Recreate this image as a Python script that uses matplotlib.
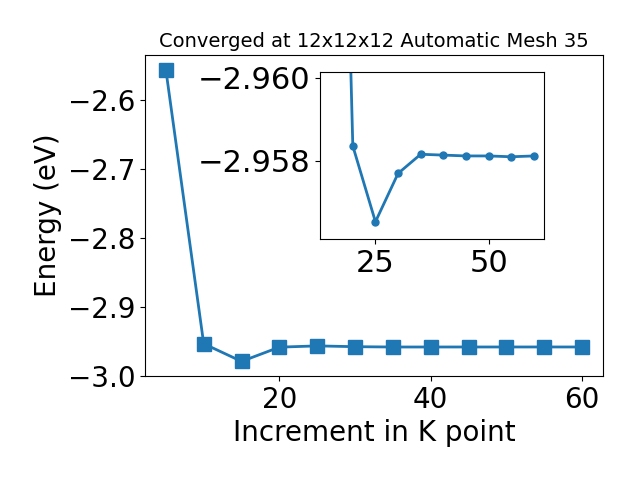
import matplotlib
matplotlib.use("Agg")
import matplotlib.pyplot as plt

kpoints = [5, 10, 15, 20, 25, 30, 35, 40, 45, 50, 55, 60]
energy = [-2.5563, -2.9534, -2.9790, -2.95836, -2.95654, -2.95770, -2.95816,
          -2.95814, -2.95812, -2.95812, -2.95810, -2.95812]

inset_k = kpoints[2:]
inset_e = energy[2:]

fig = plt.figure(figsize=(6.4, 4.8), dpi=100)
ax = fig.add_axes([0.2266, 0.2167, 0.7156, 0.6687])
ax.plot(kpoints, energy, marker='s', markersize=10, linewidth=2, color='#1f77b4')
ax.set_xlabel('Increment in K point', fontsize=20)
ax.set_ylabel('Energy (eV)', fontsize=20)
ax.set_title('Converged at 12x12x12 Automatic Mesh 35', fontsize=14)
ax.tick_params(labelsize=20)
ax.set_yticks([-3.0, -2.9, -2.8, -2.7, -2.6])

axin = fig.add_axes([0.5, 0.5015, 0.35, 0.349])
axin.plot(inset_k, inset_e, marker='o', markersize=5, linewidth=2, color='#1f77b4')
axin.set_ylim(-2.95612, -2.96014)
axin.set_yticks([-2.958, -2.960])
axin.set_xticks([25, 50])
axin.tick_params(labelsize=22)

fig.savefig('out.png', dpi=100)
